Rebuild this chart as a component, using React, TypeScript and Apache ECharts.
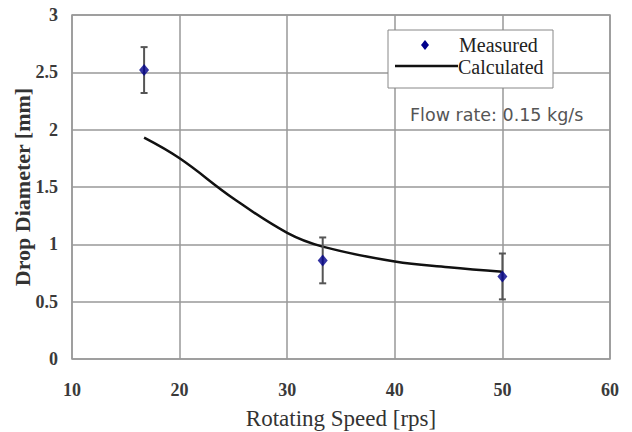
import React, { useEffect, useRef } from "react";
import * as echarts from "echarts";

const measuredX = [16.7, 33.3, 50];
const measuredY = [2.52, 0.86, 0.72];
const errLow = [2.32, 0.66, 0.52];
const errHigh = [2.72, 1.06, 0.92];

const calcX = [16.7, 20, 25, 30, 33.3, 40, 45, 50];
const calcY = [1.93, 1.75, 1.4, 1.1, 0.98, 0.85, 0.8, 0.76];

const xTicks = [10, 20, 30, 40, 50, 60];
const yTicks = [0, 0.5, 1, 1.5, 2, 2.5, 3];

const serif = "'Liberation Serif', 'DejaVu Serif', serif";
const sans = "'DejaVu Sans', 'Liberation Sans', sans-serif";

export default function App() {
  const ref = useRef<HTMLDivElement>(null);
  useEffect(() => {
    const chart = echarts.init(ref.current!, null, { renderer: "svg" });
    const option: any = {
      animation: false,
      backgroundColor: "#fff",
      grid: {
        left: 72,
        right: 22,
        top: 15,
        bottom: 73,
        show: true,
        borderColor: "#999",
        borderWidth: 1.5,
        containLabel: false,
        outerBoundsMode: "none",
      },
      xAxis: {
        type: "value",
        min: xTicks[0],
        max: xTicks[xTicks.length - 1],
        interval: 10,
        name: "Rotating Speed [rps]",
        nameLocation: "middle",
        nameGap: 48,
        nameMoveOverlap: false,
        nameTextStyle: { fontFamily: serif, fontSize: 23, color: "#333" },
        axisLine: { show: false },
        axisTick: { show: false },
        axisLabel: { fontFamily: serif, fontSize: 18, color: "#3a3a3a", margin: 22, fontWeight: "bold" },
        splitLine: { show: true, lineStyle: { color: "#999", width: 1.5 } },
      },
      yAxis: {
        type: "value",
        min: yTicks[0],
        max: yTicks[yTicks.length - 1],
        interval: 0.5,
        name: "Drop Diameter [mm]",
        nameLocation: "middle",
        nameGap: 39,
        nameMoveOverlap: false,
        nameTextStyle: { fontFamily: serif, fontSize: 22, color: "#333", fontWeight: "bold" },
        axisLine: { show: false },
        axisTick: { show: false },
        axisLabel: { fontFamily: serif, fontSize: 18, color: "#3a3a3a", margin: 14, fontWeight: "bold" },
        splitLine: { show: true, lineStyle: { color: "#999", width: 1.5 } },
      },
      series: [
        {
          name: "Calculated",
          type: "line",
          data: calcX.map((x, i) => [x, calcY[i]]),
          smooth: 0.4,
          symbol: "none",
          lineStyle: { color: "#111", width: 2.5 },
          z: 3,
        },
        {
          name: "Error",
          type: "custom",
          data: measuredX.map((x, i) => [x, errLow[i], errHigh[i]]),
          renderItem: (params: any, api: any) => {
            const x = api.value(0);
            const lo = api.coord([x, api.value(1)]);
            const hi = api.coord([x, api.value(2)]);
            const w = 3.5;
            const st = { stroke: "#555", lineWidth: 2 };
            return {
              type: "group",
              children: [
                { type: "line", shape: { x1: lo[0], y1: lo[1], x2: hi[0], y2: hi[1] }, style: st },
                { type: "line", shape: { x1: lo[0] - w, y1: lo[1], x2: lo[0] + w, y2: lo[1] }, style: st },
                { type: "line", shape: { x1: hi[0] - w, y1: hi[1], x2: hi[0] + w, y2: hi[1] }, style: st },
              ],
            };
          },
          z: 4,
        },
        {
          name: "Measured",
          type: "scatter",
          data: measuredX.map((x, i) => [x, measuredY[i]]),
          symbol: "diamond",
          symbolSize: [10, 12],
          itemStyle: { color: "#00008b" },
          z: 5,
        },
      ],
      graphic: [
        {
          type: "rect",
          shape: { x: 388, y: 30, width: 165, height: 58 },
          style: { fill: "#fff", stroke: "#888", lineWidth: 1 },
          z: 10,
        },
        {
          type: "polygon",
          shape: { points: [[425, 40], [429, 45], [425, 50], [421, 45]] },
          style: { fill: "#00008b" },
          z: 11,
        },
        {
          type: "line",
          shape: { x1: 395, y1: 66, x2: 458, y2: 66 },
          style: { stroke: "#111", lineWidth: 2.5 },
          z: 11,
        },
        {
          type: "text",
          x: 459,
          y: 45,
          style: { text: "Measured", fontFamily: serif, fontSize: 20, fill: "#222", verticalAlign: "middle", lineHeight: 20 },
          z: 11,
        },
        {
          type: "text",
          x: 458,
          y: 67,
          style: { text: "Calculated", fontFamily: serif, fontSize: 20, fill: "#222", verticalAlign: "middle", lineHeight: 20 },
          z: 11,
        },
        {
          type: "text",
          x: 410,
          y: 115,
          style: { text: "Flow rate: 0.15 kg/s", fontFamily: sans, fontSize: 17.5, fill: "#555", verticalAlign: "middle" },
          z: 11,
        },
      ],
    };
    chart.setOption(option);
    return () => chart.dispose();
  }, []);
  return <div ref={ref} style={{ position: "absolute", left: 0, top: 0, width: 632, height: 432 }} />;
}
